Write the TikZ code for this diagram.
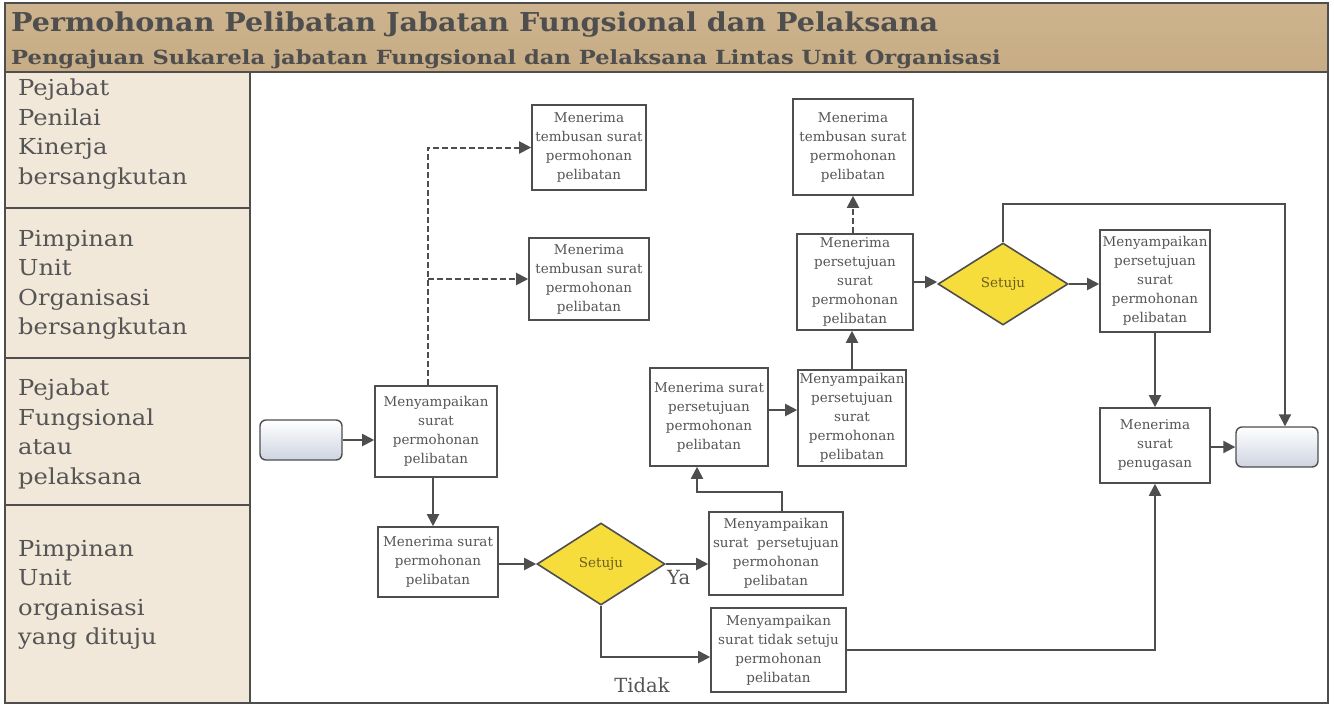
\documentclass[tikz,border=0pt]{standalone}
\usepackage{fontspec}
\setmainfont{DejaVu Serif}
\usetikzlibrary{arrows.meta,shapes.geometric}
\definecolor{headtan}{RGB}{199,172,133}
\definecolor{headtop}{RGB}{205,180,142}
\definecolor{lanetan}{RGB}{241,232,218}
\definecolor{ink}{RGB}{78,78,78}
\definecolor{txt}{RGB}{85,85,85}
\definecolor{dyellow}{RGB}{246,221,60}
\definecolor{dtext}{RGB}{110,95,30}
\definecolor{termb}{RGB}{206,212,224}
\begin{document}
\begin{tikzpicture}[x=1pt,y=-1pt,
  box/.style={draw=ink, line width=1.6pt, fill=white, align=center,
    font=\fontsize{13.5}{19}\selectfont, text=txt, inner sep=1pt},
  dia/.style={diamond, draw=ink, line width=1.6pt, fill=dyellow, inner sep=0pt,
    aspect=1.56, font=\fontsize{13.5}{15}\selectfont, text=dtext},
  term/.style={draw=ink, line width=1.4pt, rounded corners=6pt, top color=white,
    bottom color=termb, minimum width=82pt, minimum height=40pt},
  lane/.style={align=left, font=\fontsize{22}{29.5}\selectfont, text=txt, inner sep=0pt, anchor=north west},
  lbl/.style={font=\fontsize{19.5}{22}\selectfont, text=txt, inner sep=0pt},
  arr/.style={draw=ink, line width=2pt, -{Triangle[length=12pt,width=12pt]}},
  darr/.style={arr, dash pattern=on 6pt off 3pt},
  plain/.style={draw=ink, line width=2pt}
]
\useasboundingbox (0,0) rectangle (1334,705);
\fill[white] (0,0) rectangle (1334,705);
% header
\shade[top color=headtop, bottom color=headtan] (5,3) rectangle (1328,72);
\node[anchor=base west, font=\bfseries\fontsize{26}{30}\selectfont, text=ink, inner sep=0pt] (title) at (11,31) {\scalebox{1.10}[1]{Permohonan Pelibatan Jabatan Fungsional dan Pelaksana}};
\node[anchor=base west, font=\bfseries\fontsize{19.5}{22}\selectfont, text=ink, inner sep=0pt] (sub) at (11,64) {\scalebox{1.16}[1]{Pengajuan Sukarela jabatan Fungsional dan Pelaksana Lintas Unit Organisasi}};
% lane column
\fill[lanetan] (5,72) rectangle (250,703);
\draw[ink, line width=1.2pt] (5,3) rectangle (1328,703);
\draw[ink, line width=1.4pt] (5,72) -- (1328,72);
\draw[ink, line width=1.2pt] (250,72) -- (250,703);
\draw[ink, line width=1.2pt] (5,208) -- (250,208) (5,358) -- (250,358) (5,505) -- (250,505);
\node[lane] (l1) at (18,79) {\scalebox{1.1}[1]{Pejabat}\\\scalebox{1.1}[1]{Penilai}\\\scalebox{1.1}[1]{Kinerja}\\\scalebox{1.1}[1]{bersangkutan}};
\node[lane] (l2) at (18,230) {\scalebox{1.1}[1]{Pimpinan}\\\scalebox{1.1}[1]{Unit}\\\scalebox{1.1}[1]{Organisasi}\\\scalebox{1.1}[1]{bersangkutan}};
\node[lane] (l3) at (18,379) {\scalebox{1.1}[1]{Pejabat}\\\scalebox{1.1}[1]{Fungsional}\\\scalebox{1.1}[1]{atau}\\\scalebox{1.1}[1]{pelaksana}};
\node[lane] (l4) at (18,540) {\scalebox{1.1}[1]{Pimpinan}\\\scalebox{1.1}[1]{Unit}\\\scalebox{1.1}[1]{organisasi}\\\scalebox{1.1}[1]{yang dituju}};
% nodes
\node[term] (start) at (301,440) {};
\node[box, minimum width=122pt, minimum height=91pt] (b1) at (436,431.5) {Menyampaikan\\surat\\permohonan\\pelibatan};
\node[box, minimum width=114pt, minimum height=85pt] (t1) at (589,147.5) {Menerima\\tembusan surat\\permohonan\\pelibatan};
\node[box, minimum width=120pt, minimum height=82pt] (t2) at (589,279) {Menerima\\tembusan surat\\permohonan\\pelibatan};
\node[box, minimum width=120pt, minimum height=70pt] (b2) at (438,562) {Menerima surat\\permohonan\\pelibatan};
\node[dia, minimum width=128pt, minimum height=82pt] (d1) at (601,564) {Setuju};
\node[box, minimum width=134pt, minimum height=83pt] (b3) at (776,553.5) {Menyampaikan\\surat\ \ persetujuan\\permohonan\\pelibatan};
\node[box, minimum width=135pt, minimum height=84pt] (b4) at (778.5,650) {Menyampaikan\\surat tidak setuju\\permohonan\\pelibatan};
\node[box, minimum width=118pt, minimum height=98pt] (b5) at (709,417) {Menerima surat\\persetujuan\\permohonan\\pelibatan};
\node[box, minimum width=108pt, minimum height=96pt] (b6) at (852,418) {Menyampaikan\\persetujuan\\surat\\permohonan\\pelibatan};
\node[box, minimum width=116pt, minimum height=96pt] (b7) at (855,282) {Menerima\\persetujuan\\surat\\permohonan\\pelibatan};
\node[box, minimum width=120pt, minimum height=96pt] (t3) at (853,147) {Menerima\\tembusan surat\\permohonan\\pelibatan};
\node[dia, minimum width=130pt, minimum height=82pt] (d2) at (1003,284) {Setuju};
\node[box, minimum width=110pt, minimum height=102pt] (b8) at (1155,281) {Menyampaikan\\persetujuan\\surat\\permohonan\\pelibatan};
\node[box, minimum width=110pt, minimum height=75pt] (b9) at (1155,445.5) {Menerima\\surat\\penugasan};
\node[term] (end) at (1277,447) {};
\node[lbl, anchor=west] (ya) at (667,578) {Ya};
\node[lbl] (tidak) at (642,685) {Tidak};
% connectors
\draw[arr] (start.east) -- (start.east -| b1.west);
\coordinate (jt) at ([xshift=-8pt]b1.north);
\draw[darr] (jt) |- (t1.west);
\draw[darr] (jt |- t2.west) -- (t2.west);
\draw[arr] ([xshift=-3pt]b1.south) -- ([xshift=-3pt]b1.south |- b2.north);
\draw[arr] (b2.east |- d1.west) -- (d1.west);
\draw[arr] (d1.east) -- (d1.east -| b3.west);
\draw[arr] (d1.south) |- ([yshift=-7pt]b4.west);
\draw[arr] (b4.east) -| (b9.south);
\draw[arr] ([xshift=6pt]b3.north) -- ++(0,-19) -| ([xshift=-12pt]b5.south);
\draw[arr] ([yshift=7pt]b5.east) -- ([yshift=7pt]b5.east -| b6.west);
\draw[arr] (b6.north) -- (b6.north |- b7.south);
\draw[darr] ([xshift=-2pt]b7.north) -- ([xshift=-2pt]b7.north |- t3.south);
\draw[arr] (b7.east) -- (b7.east -| d2.west);
\draw[arr] (d2.east) -- (d2.east -| b8.west);
\draw[arr] (d2.north) -- ++(0,-38) -| ([xshift=8pt]end.north);
\draw[arr] (b8.south) -- (b8.south |- b9.north);
\draw[arr] (b9.east |- end.west) -- (end.west);
\end{tikzpicture}
\end{document}
